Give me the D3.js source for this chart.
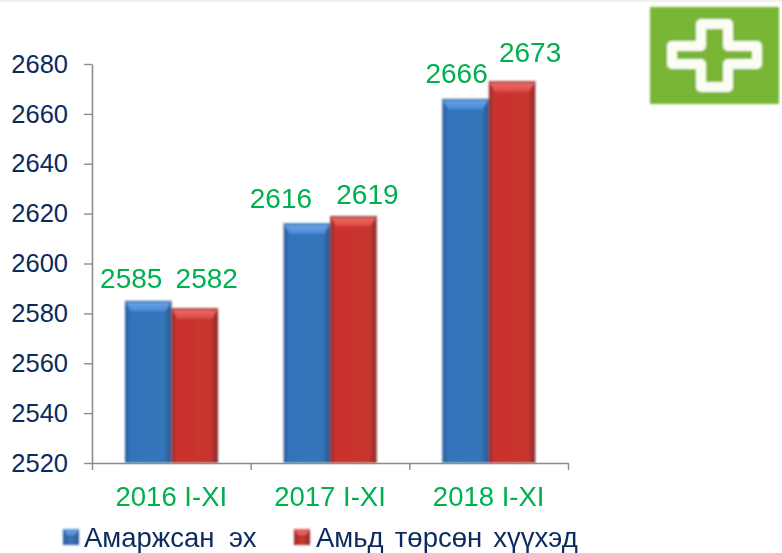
<!DOCTYPE html>
<html>
<head>
<meta charset="utf-8">
<script src="https://cdn.jsdelivr.net/npm/d3@7"></script>
<style>
  html, body { margin: 0; padding: 0; background: #fff; }
  text { font-family: "Liberation Sans", Arial, sans-serif; }
</style>
</head>
<body>
<div class="chart"></div>
<script>
// values
let categories = ["2016 I-XI", "2017 I-XI", "2018 I-XI"];
let seriesNames = ["Амаржсан эх", "Амьд төрсөн хүүхэд"];
let mothers = [2585, 2616, 2666];
let babies = [2582, 2619, 2673];
let yTicks = [2520, 2540, 2560, 2580, 2600, 2620, 2640, 2660, 2680];

let w = 782, h = 553;
let navy = "#0b2a5e", green = "#00b050", axisGrey = "#8c8c8c";

let svg = d3.select(".chart").append("svg")
  .attr("width", w).attr("height", h)
  .style("display", "block");

let defs = svg.append("defs");

function sideGradient(id, stops, vertical) {
  let g = defs.append("linearGradient").attr("id", id);
  if (vertical) g.attr("x2", 0).attr("y2", 1);
  stops.forEach(s => g.append("stop").attr("offset", s[0]).attr("stop-color", s[1]));
}
sideGradient("blueBar", [[0, "#2b5d99"], [0.12, "#3274bd"], [0.85, "#3274b8"], [1, "#2a5488"]]);
sideGradient("redBar", [[0, "#8f2e2e"], [0.12, "#cc322e"], [0.85, "#c8352f"], [1, "#7f2c2c"]]);
sideGradient("blueTop", [[0, "#6aa5ea"], [1, "#4c8dd8"]], true);
sideGradient("redTop", [[0, "#ec6f6a"], [1, "#de4c46"]], true);
sideGradient("blueLegend", [[0, "#2a5c9a"], [0.5, "#3d76bb"], [1, "#2b578f"]]);
sideGradient("redLegend", [[0, "#9a2a2a"], [0.5, "#cf3733"], [1, "#8a2a2a"]]);

// the reference is a soft, upscaled bitmap
defs.append("filter").attr("id", "soft")
  .append("feGaussianBlur").attr("stdDeviation", 1);
defs.append("filter").attr("id", "softText")
  .append("feGaussianBlur").attr("stdDeviation", 0.35);

// faint strip along the top edge
svg.append("rect").attr("width", w).attr("height", 2).attr("fill", "#f3f3ec");

let x = d3.scalePoint().domain(d3.range(4)).range([92, 568]);
let xBand = d3.scaleBand().domain(categories).range([92, 568]);
let xInner = d3.scaleBand().domain([0, 1]).range([33, 126]);
let y = d3.scaleLinear().domain([2520, 2680]).range([463, 64]);

// bars
let series = [
  { values: mothers, fill: "url(#blueBar)", top: "url(#blueTop)", edge: "#3a6cab", legend: "url(#blueLegend)", legendTop: "#5f97dc" },
  { values: babies, fill: "url(#redBar)", top: "url(#redTop)", edge: "#a23a38", legend: "url(#redLegend)", legendTop: "#e2605c" }
];

let barLayer = svg.append("g").attr("filter", "url(#soft)");

series.forEach((s, i) => {
  let bars = barLayer.selectAll(null)
    .data(s.values.map((v, j) => ({ v: v, cat: categories[j] })))
    .enter().append("g")
    .attr("transform", d => "translate(" + (xBand(d.cat) + xInner(i)) + "," + y(d.v) + ")");
  let bw = xInner.bandwidth();
  bars.append("rect")
    .attr("width", bw)
    .attr("height", d => y(2520) - y(d.v))
    .attr("fill", s.fill);
  // bevelled top edge
  bars.append("path")
    .attr("d", "M0,0H" + bw + "L" + (bw - 6) + ",10H6Z")
    .attr("fill", s.top);
  bars.append("rect")
    .attr("width", bw).attr("height", 1.5)
    .attr("fill", s.edge);
});

// axes
let yAxis = d3.axisLeft(y).tickValues(yTicks).tickSize(8).tickFormat(d3.format("d")).tickSizeOuter(0);
let xAxis = d3.axisBottom(x).tickValues(d3.range(4)).tickSize(7).tickFormat("").tickSizeOuter(0);

let yG = svg.append("g").attr("transform", "translate(92,0)").call(yAxis);
yG.select(".domain").attr("stroke", axisGrey).attr("stroke-width", 1.6);
yG.selectAll("line").attr("stroke", axisGrey).attr("stroke-width", 1.4);
yG.selectAll("text")
  .attr("x", -24)
  .attr("font-size", 25.5).attr("fill", navy)
  .style("font-family", '"Liberation Sans", Arial, sans-serif');

let xG = svg.append("g").attr("transform", "translate(0,463)").call(xAxis);
xG.select(".domain").attr("stroke", axisGrey).attr("stroke-width", 1.6);
xG.selectAll("line").attr("stroke", axisGrey).attr("stroke-width", 1.4);

// category labels
let labelLayer = svg.append("g").attr("filter", "url(#softText)");
labelLayer.selectAll(null)
  .data(categories)
  .enter().append("text")
  .attr("x", d => xBand(d) + xBand.bandwidth() / 2)
  .attr("y", 506)
  .attr("text-anchor", "middle")
  .attr("font-size", 27.5)
  .attr("fill", green)
  .text(d => d);

// value labels were moved by hand in the original, so each has its own nudge
let labelDx = [[-17, 12], [-26, 14], [-9, 18]];
let labelDy = [[-13, -20], [-16, -12], [-16, -19]];
series.forEach((s, i) => {
  labelLayer.selectAll(null)
    .data(s.values.map((v, j) => ({ v: v, j: j })))
    .enter().append("text")
    .attr("x", d => xBand(categories[d.j]) + xInner(i) + xInner.bandwidth() / 2 + labelDx[d.j][i])
    .attr("y", d => y(d.v) + labelDy[d.j][i])
    .attr("text-anchor", "middle")
    .attr("font-size", 28)
    .attr("fill", green)
    .text(d => d.v);
});

// legend
let legendX = [63, 294];
let legendTextX = [84, 316];
let legendWordGap = ["7px", "3.5px"];
series.forEach((s, i) => {
  let g = svg.append("g").attr("filter", "url(#soft)");
  g.append("rect").attr("x", legendX[i]).attr("y", 529)
    .attr("width", 16).attr("height", 16).attr("fill", s.legend);
  g.append("path")
    .attr("d", "M" + legendX[i] + ",529h16l-4,6h-8z")
    .attr("fill", s.legendTop);
  labelLayer.append("text")
    .attr("x", legendTextX[i]).attr("y", 547)
    .attr("font-size", 27.5)
    .attr("fill", navy)
    .style("word-spacing", legendWordGap[i])
    .text(seriesNames[i]);
});

// green cross badge in the corner
let badge = svg.append("g").attr("filter", "url(#soft)");
badge.append("rect").attr("x", 650).attr("y", 7).attr("width", 129).attr("height", 97).attr("fill", "#7ab635");
badge.append("path")
  .attr("d", "M701,24H728V46H757V64H728V87H701V64H672V46H701Z")
  .attr("fill", "#7ab635")
  .attr("stroke", "#fbfdf3")
  .attr("stroke-width", 10)
  .attr("stroke-linejoin", "round");
</script>
</body>
</html>
